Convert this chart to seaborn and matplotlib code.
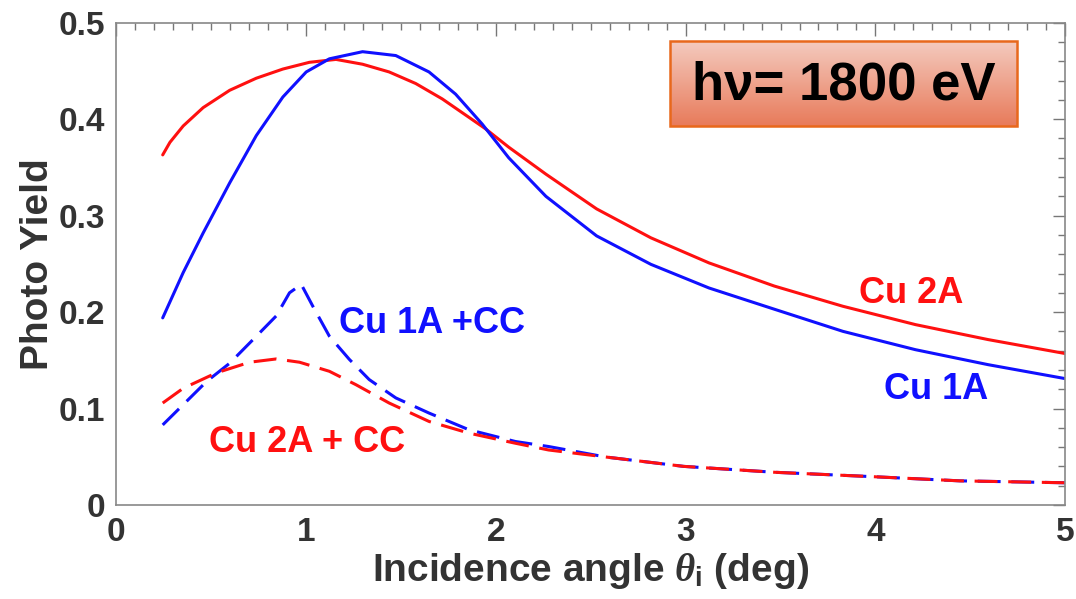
import numpy as np
import matplotlib
matplotlib.use("Agg")
import matplotlib.pyplot as plt
import matplotlib.patches as mpatches
from matplotlib.ticker import MultipleLocator
import seaborn as sns

# curves
x_cu2a = [0.245, 0.283, 0.353, 0.458, 0.598, 0.738, 0.878, 1.018, 1.158, 1.298,
          1.438, 1.578, 1.718, 1.858, 1.946, 2.068, 2.264, 2.531, 2.817, 3.123,
          3.467, 3.829, 4.211, 4.593, 5.0]
y_cu2a = [0.363, 0.376, 0.393, 0.412, 0.430, 0.4425, 0.452, 0.459, 0.462, 0.457,
          0.449, 0.437, 0.421, 0.402, 0.390, 0.371, 0.343, 0.307, 0.277, 0.251,
          0.227, 0.206, 0.187, 0.1715, 0.157]

x_cu1a = [0.245, 0.353, 0.458, 0.598, 0.738, 0.878, 1.001, 1.123, 1.298, 1.473,
          1.648, 1.788, 1.928, 2.068, 2.264, 2.531, 2.817, 3.123, 3.467, 3.829,
          4.211, 4.593, 5.0]
y_cu1a = [0.194, 0.241, 0.282, 0.334, 0.383, 0.423, 0.449, 0.4626, 0.470, 0.466,
          0.449, 0.426, 0.395, 0.360, 0.320, 0.279, 0.2495, 0.225, 0.203, 0.180,
          0.161, 0.1455, 0.131]

x_cu1a_cc = [0.245, 0.353, 0.476, 0.598, 0.721, 0.843, 0.913, 0.975, 1.036, 1.123,
             1.228, 1.333, 1.473, 1.648, 1.858, 2.103, 2.278, 2.58, 2.99, 3.468,
             3.99, 4.444, 5.0]
y_cu1a_cc = [0.083, 0.104, 0.128, 0.147, 0.1715, 0.196, 0.220, 0.2287, 0.206, 0.175,
             0.151, 0.130, 0.111, 0.0953, 0.078, 0.0658, 0.0606, 0.0497, 0.040,
             0.0339, 0.0293, 0.025, 0.023]

x_cu2a_cc = [0.245, 0.353, 0.528, 0.703, 0.843, 0.966, 1.123, 1.263, 1.438, 1.648,
             1.858, 2.103, 2.278, 2.58, 2.99, 3.468, 3.99, 4.444, 5.0]
y_cu2a_cc = [0.1057, 0.121, 0.137, 0.148, 0.1514, 0.148, 0.1386, 0.1247, 0.1057,
             0.0866, 0.0745, 0.064, 0.057, 0.0497, 0.040, 0.0339, 0.0293, 0.025, 0.023]

sns.set_style("white")
plt.rcParams['font.family'] = ['Liberation Sans', 'DejaVu Sans']
plt.rcParams['font.weight'] = 'bold'
plt.rcParams['mathtext.fontset'] = 'custom'
plt.rcParams['mathtext.it'] = 'Liberation Serif:italic'
plt.rcParams['mathtext.bf'] = 'Liberation Sans:bold'
plt.rcParams['mathtext.rm'] = 'Liberation Sans:bold'

RED = "#ff1010"
BLUE = "#1010ff"
TXT = "#333333"

fig = plt.figure(figsize=(10.76, 5.99), dpi=100)
ax = fig.add_axes([0.108, 0.157, 0.882, 0.805])

lw = 2.2
dash = (7.5, 3.5)
sns.lineplot(x=x_cu2a, y=y_cu2a, color=RED, lw=lw, ax=ax, estimator=None, sort=False)
sns.lineplot(x=x_cu1a, y=y_cu1a, color=BLUE, lw=lw, ax=ax, estimator=None, sort=False)
sns.lineplot(x=x_cu1a_cc, y=y_cu1a_cc, color=BLUE, lw=lw, ax=ax,
             estimator=None, sort=False)
ax.lines[-1].set_dashes(dash)
sns.lineplot(x=x_cu2a_cc, y=y_cu2a_cc, color=RED, lw=lw, ax=ax,
             estimator=None, sort=False)
ax.lines[-1].set_dashes(dash)

ax.set_xlim(0, 5)
ax.set_ylim(0, 0.5)
ax.xaxis.set_minor_locator(MultipleLocator(0.1))
ax.yaxis.set_minor_locator(MultipleLocator(0.02))
ax.set_xticks([0, 1, 2, 3, 4, 5], ["0", "1", "2", "3", "4", "5"])
ax.set_yticks([0, 0.1, 0.2, 0.3, 0.4, 0.5], ["0", "0.1", "0.2", "0.3", "0.4", "0.5"])
ax.tick_params(which='both', direction='in', top=True, right=True,
               color='#777777', width=1.0)
ax.tick_params(which='major', length=9, labelsize=24, labelcolor=TXT)
ax.tick_params(axis='x', which='major', pad=9)
ax.tick_params(axis='y', which='major', pad=8)
ax.tick_params(which='minor', length=5)
for s in ax.spines.values():
    s.set_color('#888888')
    s.set_linewidth(1.2)

ax.set_xlabel(r"Incidence angle $\theta_\mathbf{i}$ (deg)", fontsize=28,
              fontweight='bold', color=TXT, labelpad=2)
ax.set_ylabel("Photo Yield", fontsize=28, fontweight='bold', color=TXT, labelpad=2)

ax.text(1.664, 0.188, "Cu 1A +CC", color=BLUE, fontsize=26, fontweight='bold',
        ha='center', va='center')
ax.text(1.008, 0.0645, "Cu 2A + CC", color=RED, fontsize=26, fontweight='bold',
        ha='center', va='center')
ax.text(4.187, 0.219, "Cu 2A", color=RED, fontsize=26, fontweight='bold',
        ha='center', va='center')
ax.text(4.32, 0.1195, "Cu 1A", color=BLUE, fontsize=26, fontweight='bold',
        ha='center', va='center')

# gradient label box
bx0, bx1, by0, by1 = 2.92, 4.745, 0.393, 0.481
grad = np.linspace(0, 1, 64).reshape(-1, 1)
cmap = matplotlib.colors.LinearSegmentedColormap.from_list(
    "box", ["#f4cabe", "#e87b5b"])
ax.imshow(grad, cmap=cmap, extent=[bx0, bx1, by0, by1], origin='upper',
          aspect='auto', zorder=3)
ax.add_patch(mpatches.Rectangle((bx0, by0), bx1 - bx0, by1 - by0, fill=False,
                                edgecolor='#e8681c', lw=1.8, zorder=4))
ax.text((bx0 + bx1) / 2, (by0 + by1) / 2 - 0.002, "h\u03bd= 1800 eV", fontsize=38,
        fontweight='bold', color='black', ha='center', va='center', zorder=5)
ax.set_xlim(0, 5)
ax.set_ylim(0, 0.5)

fig.savefig("out.png", dpi=100)
